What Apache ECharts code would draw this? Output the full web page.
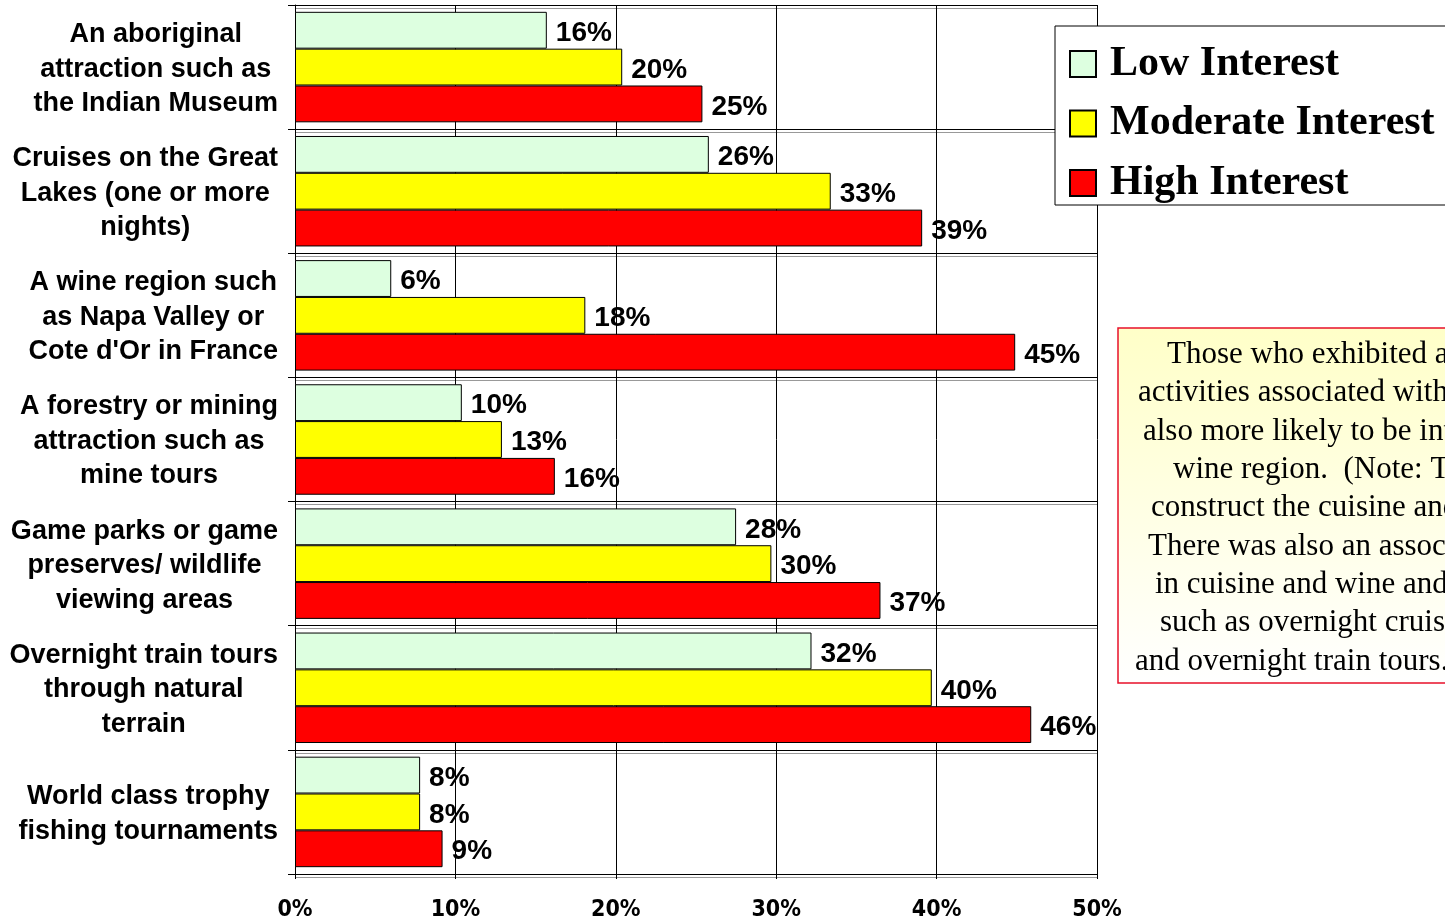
<!DOCTYPE html>
<html>
<head>
<meta charset="utf-8">
<script src="https://cdn.jsdelivr.net/npm/echarts@6/dist/echarts.min.js"></script>
<style>
  html, body { margin: 0; padding: 0; background: #fff; }
  #chart { width: 1445px; height: 922px; }
</style>
</head>
<body>
<div id="chart"></div>
<script>
// activities (top to bottom)
const categories = [
  'An aboriginal\nattraction such as\nthe Indian Museum',
  'Cruises on the Great\nLakes (one or more\nnights)',
  'A wine region such\nas Napa Valley or\nCote d\'Or in France',
  'A forestry or mining\nattraction such as\nmine tours',
  'Game parks or game\npreserves/ wildlife\nviewing areas',
  'Overnight train tours\nthrough natural\nterrain',
  'World class trophy\nfishing tournaments'
]
const seriesNames = ['Low Interest', 'Moderate Interest', 'High Interest']
// percentages (labels show them rounded)
const lowValues = [15.7, 25.8, 6.0, 10.4, 27.5, 32.2, 7.8]
const moderateValues = [20.4, 33.4, 18.1, 12.9, 29.7, 39.7, 7.8]
const highValues = [25.4, 39.1, 44.9, 16.2, 36.5, 45.9, 9.2]
const noteLines = [
  'Those who exhibited a high',
  'activities associated with cuisine',
  'also more likely to be interested',
  'wine region.  (Note: The',
  'construct the cuisine and',
  'There was also an association',
  'in cuisine and wine and',
  'such as overnight cruises',
  'and overnight train tours.'
]

const colors = ['#DDFFE0', '#FFFF00', '#FF0000']
const chart = echarts.init(document.getElementById('chart'))

const barSeries = [lowValues, moderateValues, highValues].map((vals, i) => ({
  name: seriesNames[i],
  type: 'bar',
  data: vals,
  barGap: '0%',
  barCategoryGap: '11%',
  itemStyle: { color: colors[i], borderColor: '#000', borderWidth: 1 },
  label: {
    show: true,
    position: 'right',
    distance: 9,
    offset: [0, 3],
    formatter: p => Math.round(p.value) + '%',
    color: '#000',
    fontFamily: 'Liberation Sans, Arial, sans-serif',
    fontWeight: 'bold',
    fontSize: 28
  }
}))

// note box on the right
const noteX = [1167, 1138, 1143, 1173, 1151, 1148, 1155, 1160, 1135]
const noteGraphics = [{
  type: 'rect',
  shape: { x: 1118, y: 328, width: 420, height: 355 },
  style: {
    fill: new echarts.graphic.LinearGradient(0, 0, 0, 1, [
      { offset: 0, color: '#FFFFC8' },
      { offset: 1, color: '#FFFFFF' }
    ]),
    stroke: '#E8102A',
    lineWidth: 1.5
  }
}].concat(noteLines.map((t, i) => ({
  type: 'text',
  x: noteX[i],
  y: 355 + i * 38.3,
  style: {
    text: t,
    fill: '#000',
    font: '31px "Liberation Serif", "Times New Roman", serif',
    textVerticalAlign: 'middle'
  }
})))

const option = {
  animation: false,
  grid: { left: 295, right: 348, top: 5, bottom: 45, containLabel: false },
  legend: {
    data: seriesNames,
    orient: 'vertical',
    left: 1055,
    top: 26,
    padding: [17, 200, 1, 14],
    itemWidth: 26,
    itemHeight: 26,
    itemGap: 17.5,
    icon: 'rect',
    borderColor: '#000',
    borderWidth: 1,
    backgroundColor: '#fff',
    textStyle: {
      fontFamily: 'Liberation Serif, Times New Roman, serif',
      fontWeight: 'bold',
      fontSize: 42,
      lineHeight: 42,
      color: '#000',
      padding: [0, 0, 0, 9]
    }
  },
  xAxis: {
    type: 'value',
    min: 0,
    max: 50,
    interval: 10,
    axisLine: { show: true, lineStyle: { color: '#000', width: 1 } },
    axisTick: { show: true, length: 5, lineStyle: { color: '#000' } },
    splitLine: { show: true, lineStyle: { color: '#000', width: 1 } },
    axisLabel: {
      formatter: '{value}%',
      margin: 25,
      color: '#000',
      fontFamily: 'Liberation Sans Narrow, DejaVu Sans Condensed, Arial, sans-serif',
      fontWeight: 'bold',
      fontSize: 23
    }
  },
  yAxis: {
    type: 'category',
    inverse: true,
    data: categories,
    axisLine: { show: true, lineStyle: { color: '#000', width: 1 } },
    axisTick: { show: true, length: 7, lineStyle: { color: '#000' } },
    splitLine: {
      show: true,
      lineStyle: { color: '#000', width: 1, shadowColor: '#999', shadowOffsetY: 3, shadowBlur: 0 }
    },
    axisLabel: {
      margin: 17,
      formatter: v => v.split('\n').map(s => '{c|' + s + '}').join('\n'),
      rich: {
        c: {
          align: 'center',
          color: '#000',
          fontFamily: 'Liberation Sans, Arial, sans-serif',
          fontWeight: 'bold',
          fontSize: 27,
          lineHeight: 34.5,
          padding: [4, 0, 0, 0]
        }
      }
    }
  },
  series: barSeries,
  graphic: noteGraphics
}

chart.setOption(option)
</script>
</body>
</html>
